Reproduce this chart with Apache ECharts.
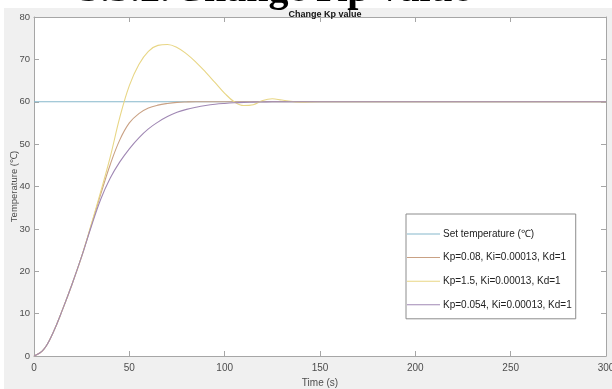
<!DOCTYPE html>
<html>
<head>
<meta charset="utf-8">
<script src="https://cdn.jsdelivr.net/npm/echarts@6.0.0/dist/echarts.min.js"></script>
<style>
  html, body { margin: 0; padding: 0; background: #fff; }
  #chart { width: 612px; height: 389px; }
</style>
</head>
<body>
<div id="chart"></div>
<script>
// Time axis (s) and step responses
const timeSec = [0, 5, 10, 15, 20, 25, 30, 35, 40, 45, 50, 55, 60, 65, 70, 75, 80, 85, 90, 95,
  100, 105, 110, 115, 120, 125, 130, 140, 150, 175, 200, 250, 300];
const setTemp = timeSec.map(() => 60);
const kp008 = [0, 1.5, 5.5, 11, 17, 23.5, 30.8, 38.2, 45.2, 51, 55, 57.2, 58.5, 59.2, 59.6, 59.85, 59.95, 60, 60, 60,
  60, 60, 60, 60, 60, 60, 60, 60, 60, 60, 60, 60, 60];
const kp15 = [0, 1.5, 5.5, 11, 17, 23.5, 31, 38.8, 47, 56.3, 63.8, 68.8, 71.9, 73.3, 73.5, 72.8, 71.3, 69.3, 67, 64.5,
  62, 60, 59.1, 59.3, 60.3, 60.7, 60.4, 59.9, 60, 60, 60, 60, 60];
const kp0054 = [0, 1.5, 5.5, 11, 17, 23.5, 30.5, 37, 42, 45.8, 48.9, 51.5, 53.6, 55.2, 56.5, 57.5, 58.2, 58.7, 59.1, 59.4,
  59.6, 59.75, 59.85, 59.9, 59.95, 60, 60, 60, 60, 60, 60, 60, 60];
const xTicks = { min: 0, max: 300, interval: 50 };
const yTicks = { min: 0, max: 80, interval: 10 };

const pairs = ys => timeSec.map((t, i) => [t, ys[i]]);

let chart = echarts.init(document.getElementById('chart'), null, { renderer: 'canvas' });

const axisGray = '#a6a6a6';
const tickFont = { fontFamily: 'Liberation Sans, Arial', fontSize: 10, color: '#4d4d4d' };

const baseAxis = {
  axisLine: { show: true, onZero: false, lineStyle: { color: axisGray, width: 1 } },
  axisTick: { show: true, inside: true, length: 5, lineStyle: { color: axisGray } },
  splitLine: { show: false }
};

chart.setOption({
  animation: false,
  backgroundColor: '#fff',
  title: {
    text: 'Change Kp value',
    left: 320,
    top: 5,
    textAlign: 'center',
    textStyle: { fontFamily: 'Liberation Sans, Arial', fontSize: 9, fontWeight: 'bold', color: '#111' }
  },
  graphic: [
    { type: 'rect', z: -10, shape: { x: 4, y: 8, width: 608, height: 381 }, style: { fill: '#f0f0f0' } },
    { type: 'rect', z: -9, shape: { x: 34, y: 17, width: 572, height: 339 }, style: { fill: '#fff' } },
    {
      type: 'text', z: 100, x: 80, y: 11,
      style: { text: '3.3.2.', font: 'bold 40px "Liberation Serif", serif', fill: '#000', verticalAlign: 'bottom' }
    },
    {
      type: 'text', z: 100, x: 175, y: 11,
      style: { text: 'Change Kp value', font: 'bold 40px "Liberation Serif", serif', fill: '#000', verticalAlign: 'bottom' }
    }
  ],
  grid: { left: 34, right: 6, top: 17, bottom: 33, containLabel: false, outerBoundsMode: 'none' },
  legend: {
    orient: 'vertical',
    left: 406,
    top: 214,
    icon: 'rect',
    itemWidth: 33,
    itemHeight: 1,
    itemGap: 13.6,
    padding: [15, 4, 9, 1],
    backgroundColor: '#fff',
    borderColor: '#8c8c8c',
    borderWidth: 1,
    textStyle: { fontFamily: 'Liberation Sans, Arial', fontSize: 10, color: '#222', padding: [0, 0, 0, -2] }
  },
  xAxis: [
    Object.assign({}, baseAxis, {
      type: 'value', position: 'bottom', ...xTicks,
      axisLabel: Object.assign({ margin: 7 }, tickFont),
      name: 'Time (s)', nameLocation: 'middle', nameGap: 22, nameMoveOverlap: false,
      nameTextStyle: tickFont
    }),
    Object.assign({}, baseAxis, {
      type: 'value', position: 'top', ...xTicks,
      axisLabel: { show: false }
    })
  ],
  yAxis: [
    Object.assign({}, baseAxis, {
      type: 'value', position: 'left', ...yTicks,
      axisLabel: Object.assign({}, tickFont, { margin: 4, fontSize: 9.5 }),
      name: 'Temperature (℃)', nameLocation: 'middle', nameGap: 15, nameMoveOverlap: false,
      nameTextStyle: Object.assign({}, tickFont, { fontSize: 9.5 })
    }),
    Object.assign({}, baseAxis, {
      type: 'value', position: 'right', ...yTicks,
      axisLabel: { show: false }
    })
  ],
  series: [
    { name: 'Set temperature (℃)', type: 'line', data: pairs(setTemp), symbol: 'none',
      lineStyle: { color: '#86b8cc', width: 1.1 }, itemStyle: { color: '#86b8cc' } },
    { name: 'Kp=0.08, Ki=0.00013, Kd=1', type: 'line', data: pairs(kp008), symbol: 'none', smooth: 0.4,
      lineStyle: { color: '#c9a184', width: 1.1 }, itemStyle: { color: '#c9a184' } },
    { name: 'Kp=1.5, Ki=0.00013, Kd=1', type: 'line', data: pairs(kp15), symbol: 'none', smooth: 0.4,
      lineStyle: { color: '#e8d685', width: 1.1 }, itemStyle: { color: '#e8d685' } },
    { name: 'Kp=0.054, Ki=0.00013, Kd=1', type: 'line', data: pairs(kp0054), symbol: 'none', smooth: 0.4,
      lineStyle: { color: '#a088b4', width: 1.1 }, itemStyle: { color: '#a088b4' } }
  ]
});
</script>
</body>
</html>
